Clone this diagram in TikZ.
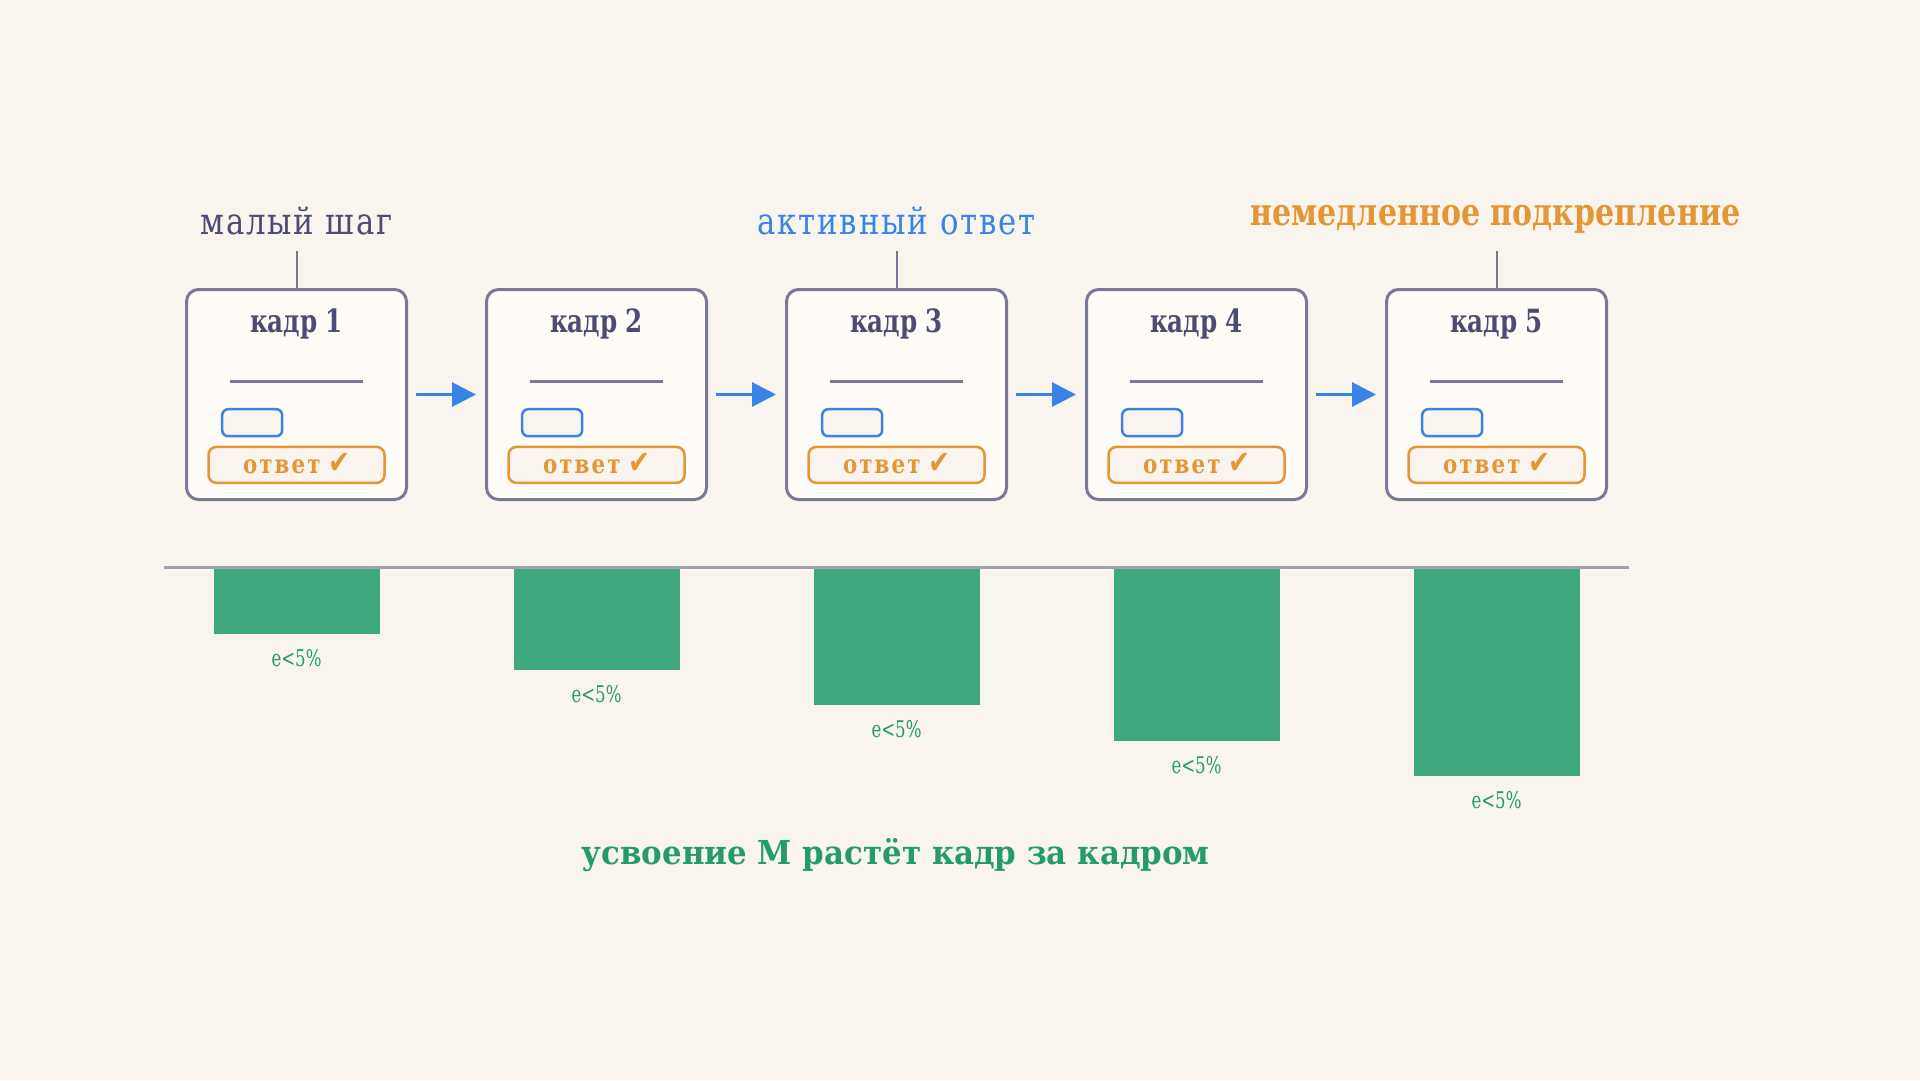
\documentclass[tikz,border=0pt]{standalone}
\usepackage{fontspec}
\setmainfont{DejaVu Serif}
\newfontfamily\symfont{DejaVu Sans}
\usepackage{graphicx}
\definecolor{bgc}{RGB}{250,244,238}
\definecolor{boxfill}{RGB}{255,251,246}
\definecolor{boxline}{RGB}{122,120,152}
\definecolor{titlec}{RGB}{76,76,114}
\definecolor{bluec}{RGB}{58,132,232}
\definecolor{orangec}{RGB}{228,150,52}
\definecolor{barc}{RGB}{64,168,126}
\definecolor{greent}{RGB}{36,156,106}
\definecolor{axisc}{RGB}{160,162,178}
\newsavebox\fitbox
\newlength\fitlen
\newcommand\fitw[2]{\sbox\fitbox{#2}\fitlen=\wd\fitbox\pgfmathsetmacro\fitf{#1/\fitlen}\scalebox{\fitf}[1]{\usebox\fitbox}}
\tikzset{
  frame/.style={draw=boxline, line width=3pt, fill=boxfill, rounded corners=12pt, minimum width=220pt, minimum height=210pt, inner sep=0pt},
  txt/.style={inner sep=0pt, anchor=base},
  inline/.style={draw=boxline, line width=2.5pt},
  bluebox/.style={draw=bluec, line width=2.5pt, fill=bgc, rounded corners=6pt, minimum width=60pt, minimum height=27pt, inner sep=0pt},
  orbox/.style={draw=orangec, line width=2.5pt, fill=bgc, rounded corners=8pt, minimum width=176pt, minimum height=36pt, inner sep=0pt},
  flow/.style={draw=bluec, line width=3pt, -{Triangle[length=24pt,width=24pt]}},
  tick/.style={draw=boxline, line width=2pt},
  bar/.style={fill=barc, draw=none},
}
\usetikzlibrary{arrows.meta}
\begin{document}
\begin{tikzpicture}[x=1pt,y=-1pt]
\useasboundingbox (0,0) rectangle (1920,1080);
\fill[bgc] (0,0) rectangle (1920,1080);
% frames
\foreach \i in {1,...,5}{
  \pgfmathsetmacro\cx{296.5+300*(\i-1)}
  \node[frame] (f\i) at (\cx,394.5) {};
  \node[txt, text=titlec] (t\i) at (\cx,332.7) {\fontsize{32}{34}\selectfont\bfseries\fitw{93}{кадр \i}};
  \coordinate (la\i) at (\cx-66.5,381.3);
  \coordinate (lb\i) at (\cx+66.5,381.3);
  \draw[inline] (la\i) -- (lb\i);
  \node[bluebox] (b\i) at (\cx-44.3,422.7) {};
  \node[orbox] (o\i) at (\cx,464.9) {};
  \node[txt, text=orangec] (a\i) at (\cx,473.3) {\fontsize{26}{30}\selectfont\bfseries\fitw{107}{{\addfontfeature{LetterSpace=10}ответ} {\symfont\fontsize{32}{34}\selectfont ✔}}};
}
% arrows
\foreach \i/\j in {1/2,2/3,3/4,4/5}{
  \draw[flow] ([xshift=8pt]f\i.east) -- ([xshift=-9pt]f\j.west);
}
% labels
\node[txt, text=titlec] (l1) at (296.5,234) {\fontsize{37}{40}\selectfont\addfontfeature{LetterSpace=6}\fitw{192}{малый шаг}};
\node[txt, text=bluec] (l3) at (896.5,234) {\fontsize{37}{40}\selectfont\addfontfeature{LetterSpace=6}\fitw{278}{активный ответ}};
\node[txt, text=orangec] (l5) at (1495.5,225.7) {\fontsize{38}{40}\selectfont\bfseries\fitw{490}{немедленное подкрепление}};
\coordinate (c1) at (296.5,250.7);
\coordinate (c3) at (896.5,250.7);
\coordinate (c5) at (1496.5,250.7);
\draw[tick] (c1) -- (f1.north);
\draw[tick] (c3) -- (f3.north);
\draw[tick] (c5) -- (f5.north);
% bars
\foreach \i/\h in {1/67,2/103,3/138,4/174,5/209}{
  \pgfmathsetmacro\cx{296.5+300*(\i-1)}
  \path[bar] (\cx-83,567) rectangle (\cx+83,567+\h);
  \node[txt, text=greent] (e\i) at (\cx,567+\h+32) {\fontsize{23}{24}\selectfont\fitw{50}{e<5\%}};
}
\coordinate (ax1) at (164,567);
\coordinate (ax2) at (1629,567);
\draw[axisc, line width=3pt] (ax1) -- (ax2);
% bottom title
\node[txt, text=greent] (bt) at (895.7,864) {\fontsize{33}{34}\selectfont\bfseries\fitw{628}{усвоение М растёт кадр за кадром}};
\end{tikzpicture}
\end{document}
